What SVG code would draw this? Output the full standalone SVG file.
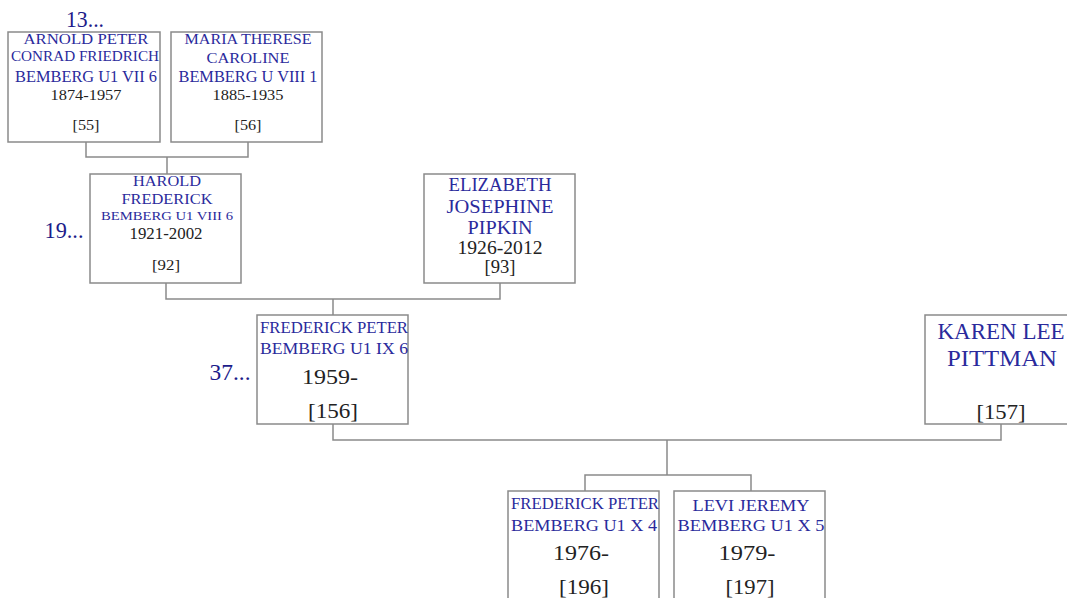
<svg xmlns="http://www.w3.org/2000/svg" width="1067" height="598" viewBox="0 0 1067 598">
<style>
.box{fill:#fff;stroke:#8a8a8a;stroke-width:1.5}
.con{fill:none;stroke:#8a8a8a;stroke-width:1.5}
text{font-family:"Liberation Serif","DejaVu Serif",serif;text-anchor:middle}
.n{fill:#2a2a9c}
.d{fill:#222}
.g{fill:#1c1c8a;font-size:23px}
</style>
<rect width="1067" height="598" fill="#fff"/>
<g id="connectors">
<path class="con" d="M86 142V157H248V142M167 157V174"/>
<path class="con" d="M166 283V299H500V283M333 299V315"/>
<path class="con" d="M333 424V440H1001V424M667 440V475M585 491V475H751V491"/>
</g>
<g id="gen13"><text class="g" x="85" y="27" textLength="38" lengthAdjust="spacingAndGlyphs">13...</text></g>
<g id="gen19"><text class="g" x="64" y="238" textLength="39" lengthAdjust="spacingAndGlyphs">19...</text></g>
<g id="gen37"><text class="g" x="230" y="380" textLength="41" lengthAdjust="spacingAndGlyphs">37...</text></g>
<g id="n55">
<rect class="box" x="8" y="32" width="152" height="110"/>
<text class="n" x="86" y="44" font-size="15" textLength="125" lengthAdjust="spacingAndGlyphs">ARNOLD PETER</text>
<text class="n" x="85" y="61" font-size="14" textLength="148" lengthAdjust="spacingAndGlyphs">CONRAD FRIEDRICH</text>
<text class="n" x="86" y="82" font-size="16" textLength="142" lengthAdjust="spacingAndGlyphs">BEMBERG U1 VII 6</text>
<text class="d" x="86" y="100" font-size="15" textLength="71" lengthAdjust="spacingAndGlyphs">1874-1957</text>
<text class="d" x="86" y="130" font-size="14" textLength="27" lengthAdjust="spacingAndGlyphs">[55]</text>
</g>
<g id="n56">
<rect class="box" x="171" y="32" width="151" height="110"/>
<text class="n" x="248" y="44" font-size="15" textLength="127" lengthAdjust="spacingAndGlyphs">MARIA THERESE</text>
<text class="n" x="248" y="63" font-size="15" textLength="83" lengthAdjust="spacingAndGlyphs">CAROLINE</text>
<text class="n" x="248" y="82" font-size="16" textLength="139" lengthAdjust="spacingAndGlyphs">BEMBERG U VIII 1</text>
<text class="d" x="248" y="100" font-size="15" textLength="71" lengthAdjust="spacingAndGlyphs">1885-1935</text>
<text class="d" x="248" y="130" font-size="14" textLength="27" lengthAdjust="spacingAndGlyphs">[56]</text>
</g>
<g id="n92">
<rect class="box" x="90" y="174" width="151" height="109"/>
<text class="n" x="167" y="186" font-size="15" textLength="68" lengthAdjust="spacingAndGlyphs">HAROLD</text>
<text class="n" x="167" y="204" font-size="15" textLength="91" lengthAdjust="spacingAndGlyphs">FREDERICK</text>
<text class="n" x="167" y="220" font-size="12" textLength="132" lengthAdjust="spacingAndGlyphs">BEMBERG U1 VIII 6</text>
<text class="d" x="166" y="239" font-size="16" textLength="73" lengthAdjust="spacingAndGlyphs">1921-2002</text>
<text class="d" x="166" y="270" font-size="14" textLength="28" lengthAdjust="spacingAndGlyphs">[92]</text>
</g>
<g id="n93">
<rect class="box" x="424" y="174" width="151" height="109"/>
<text class="n" x="500" y="191" font-size="18" textLength="103" lengthAdjust="spacingAndGlyphs">ELIZABETH</text>
<text class="n" x="500" y="213" font-size="18" textLength="107" lengthAdjust="spacingAndGlyphs">JOSEPHINE</text>
<text class="n" x="500" y="234" font-size="18" textLength="65" lengthAdjust="spacingAndGlyphs">PIPKIN</text>
<text class="d" x="500" y="254" font-size="18" textLength="85" lengthAdjust="spacingAndGlyphs">1926-2012</text>
<text class="d" x="500" y="273" font-size="18" textLength="31" lengthAdjust="spacingAndGlyphs">[93]</text>
</g>
<g id="n156">
<rect class="box" x="257" y="315" width="151" height="109"/>
<text class="n" x="334" y="333" font-size="16" textLength="148" lengthAdjust="spacingAndGlyphs">FREDERICK PETER</text>
<text class="n" x="334" y="354" font-size="17" textLength="148" lengthAdjust="spacingAndGlyphs">BEMBERG U1 IX 6</text>
<text class="d" x="330" y="384" font-size="22" textLength="56" lengthAdjust="spacingAndGlyphs">1959-</text>
<text class="d" x="333" y="418" font-size="22" textLength="50" lengthAdjust="spacingAndGlyphs">[156]</text>
</g>
<g id="n157">
<rect class="box" x="925" y="315" width="152" height="109"/>
<text class="n" x="1001" y="339" font-size="23" textLength="127" lengthAdjust="spacingAndGlyphs">KAREN LEE</text>
<text class="n" x="1002" y="366" font-size="23" textLength="110" lengthAdjust="spacingAndGlyphs">PITTMAN</text>
<text class="d" x="1001" y="419" font-size="22" textLength="49" lengthAdjust="spacingAndGlyphs">[157]</text>
</g>
<g id="n196">
<rect class="box" x="508" y="491" width="151" height="120"/>
<text class="n" x="585" y="509" font-size="16" textLength="148" lengthAdjust="spacingAndGlyphs">FREDERICK PETER</text>
<text class="n" x="584" y="531" font-size="17" textLength="146" lengthAdjust="spacingAndGlyphs">BEMBERG U1 X 4</text>
<text class="d" x="581" y="560" font-size="22" textLength="56" lengthAdjust="spacingAndGlyphs">1976-</text>
<text class="d" x="584" y="594" font-size="22" textLength="50" lengthAdjust="spacingAndGlyphs">[196]</text>
</g>
<g id="n197">
<rect class="box" x="674" y="491" width="151" height="120"/>
<text class="n" x="751" y="511" font-size="17" textLength="117" lengthAdjust="spacingAndGlyphs">LEVI JEREMY</text>
<text class="n" x="751" y="531" font-size="17" textLength="147" lengthAdjust="spacingAndGlyphs">BEMBERG U1 X 5</text>
<text class="d" x="747" y="560" font-size="22" textLength="57" lengthAdjust="spacingAndGlyphs">1979-</text>
<text class="d" x="750" y="594" font-size="22" textLength="49" lengthAdjust="spacingAndGlyphs">[197]</text>
</g>
</svg>
